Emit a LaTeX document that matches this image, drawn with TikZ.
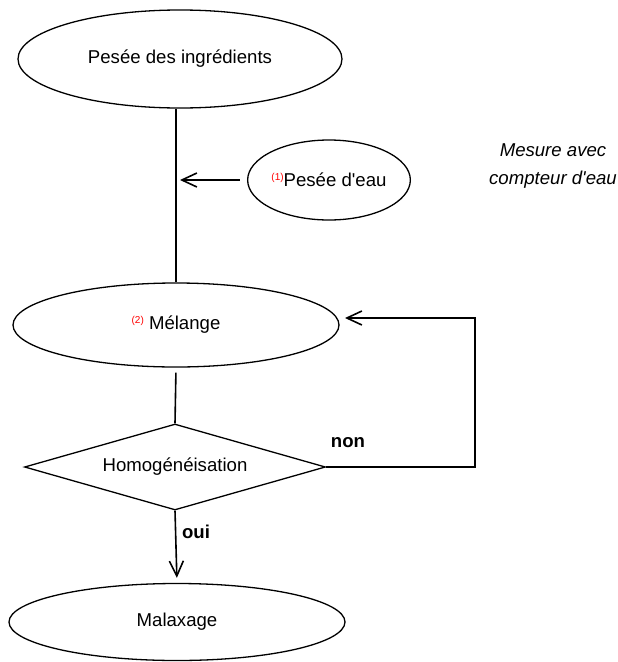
\documentclass[tikz,border=0pt]{standalone}
\usepackage{fontspec}
\setmainfont{Liberation Sans}
\usetikzlibrary{shapes.geometric,arrows.meta}
% small red reference number set before a stage name
\newcommand{\stagenum}[1]{\raisebox{6pt}{\textcolor{red}{\fontsize{10}{12}\selectfont(#1)}}}
\begin{document}
\begin{tikzpicture}[x=1pt,y=-1pt,
  every node/.style={font=\fontsize{18.6}{28}\selectfont},
  stage/.style={draw,ellipse,line width=1.3pt,inner sep=0pt},
  test/.style={draw,diamond,line width=1.3pt,inner sep=0pt,shape aspect=3.5},
  link/.style={line width=1.6pt},
  flow/.style={link,-{Straight Barb[length=15pt,width=14pt]}},
  answer/.style={font=\bfseries\fontsize{18.6}{22}\selectfont},
  remark/.style={font=\itshape\fontsize{18.6}{28}\selectfont,align=center}
]
\useasboundingbox (0,0) rectangle (618,662);

% process stages
\node[stage,minimum width=324pt,minimum height=98pt] (pesee) at (180,59) {Pesée des ingrédients};
\node[stage,minimum width=154pt,minimum height=80pt] (eau) at (329,180) {\stagenum{1}Pesée d\textquotesingle eau};
\node[stage,minimum width=326pt,minimum height=84pt] (melange) at (176,325) {\stagenum{2} Mélange};
\node[test,minimum width=301pt,minimum height=86pt] (homog) at (175,467) {Homogénéisation};
\node[stage,minimum width=336pt,minimum height=77pt] (malaxage) at (177,622) {Malaxage};

% side remark
\node[remark] (mesure) at (553,166) {Mesure avec\\compteur d\textquotesingle eau};

% loop and branch labels
\node[answer] (nonlbl) at (348,443) {non};
\node[answer] (ouilbl) at (196,532) {oui};

% connector end points
\coordinate (feed) at (180,180);
\coordinate (loopbottom) at (475,467);
\coordinate (looptop) at (475,318);
\coordinate (back) at (345,318);

% connectors
\draw[link] (pesee.south -| melange.north) -- (melange.north);
\draw[flow,shorten <=7pt] (eau.west) -- (feed);
\draw[link,shorten <=5pt] (melange.south) -- (homog.north);
\draw[flow] (homog.east) -- (loopbottom) -- (looptop) -- (back);
\draw[flow,shorten >=5pt] (homog.south) -- (malaxage.north);
\end{tikzpicture}
\end{document}
